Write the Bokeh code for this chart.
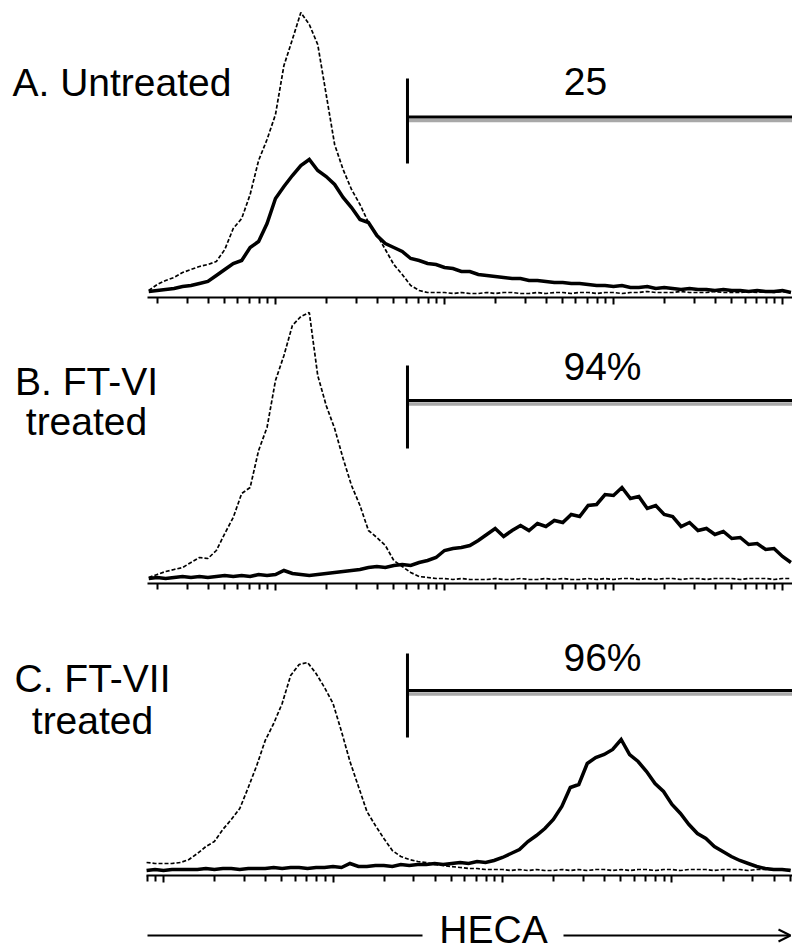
import numpy as np
from bokeh.plotting import figure
from bokeh.layouts import column
from bokeh.models import Range1d, FixedTicker, Arrow, OpenHead, LinearScale
from bokeh.core.properties import value
from bokeh.embed import file_html
from bokeh.resources import INLINE

# ---------------- data ----------------
# histogram channels: log10 HECA intensity, 0.05-decade bins
log_ab = np.round(np.arange(0.25, 4.0501, 0.05), 3)   # panels A and B
log_c = np.round(np.arange(-0.10, 3.7001, 0.05), 3)   # panel C

ctrl_A = [4, 10, 14, 17, 22, 25, 28, 30, 33, 45,
          66, 76, 100, 134, 155, 180, 229, 255, 282, 270,
          250, 200, 150, 125, 105, 90, 72, 60, 45, 30,
          20, 9, 4, 2, 2, 2, 1, 2, 1, 1,
          2, 1, 2, 2, 1, 1, 2, 1, 2, 2,
          1, 2, 2, 1, 2, 2, 1, 2, 2, 3,
          2, 2, 2, 3, 2, 2, 2, 3, 2, 2,
          2, 3, 2, 3, 2, 3, 2]
heca_A = [3, 4, 5, 6, 8, 9, 11, 13, 19, 25,
          31, 34, 47, 53, 71, 96, 108, 119, 129, 135,
          124, 118, 110, 97, 87, 75, 72, 59, 51, 47,
          43, 36, 34, 31, 30, 27, 26, 23, 23, 20,
          19, 18, 17, 16, 16, 14, 14, 13, 12, 12,
          11, 11, 10, 9, 9, 8, 9, 7, 7, 8,
          6, 7, 6, 5, 6, 5, 5, 4, 5, 4,
          4, 3, 4, 3, 3, 4, 2]

ctrl_B = [3, 6, 9, 11, 13, 18, 23, 22, 30, 47,
          63, 87, 93, 130, 153, 200, 225, 255, 264, 268,
          205, 175, 152, 122, 95, 75, 50, 43, 35, 20,
          14, 8, 4, 3, 2, 2, 1, 2, 1, 1,
          1, 2, 1, 1, 2, 1, 1, 2, 1, 2,
          1, 1, 2, 1, 2, 1, 2, 2, 1, 2,
          1, 2, 2, 1, 2, 2, 1, 2, 2, 2,
          1, 2, 2, 2, 1, 2, 2]
heca_B = [2, 3, 2, 3, 4, 3, 4, 3, 4, 5,
          4, 5, 4, 6, 5, 6, 10, 7, 6, 5,
          6, 7, 8, 9, 10, 11, 13, 14, 13, 15,
          16, 15, 18, 20, 23, 30, 32, 33, 35, 40,
          46, 52, 44, 50, 55, 50, 57, 54, 60, 58,
          66, 64, 75, 76, 86, 85, 93, 82, 84, 72,
          75, 66, 64, 54, 58, 50, 52, 46, 49, 42,
          43, 36, 37, 31, 32, 24, 18]

ctrl_C = [9, 8, 8, 8, 9, 12, 18, 25, 30, 42,
          52, 63, 84, 106, 131, 148, 168, 196, 207, 209,
          198, 184, 168, 140, 110, 85, 60, 46, 33, 21,
          15, 12, 10, 9, 7, 6, 5, 4, 3, 3,
          2, 2, 2, 1, 2, 1, 2, 1, 1, 2,
          1, 2, 1, 2, 2, 1, 2, 1, 2, 2,
          1, 2, 2, 1, 2, 2, 2, 1, 2, 2,
          2, 1, 2, 2, 2, 2, 2]
heca_C = [1, 2, 1, 2, 2, 2, 2, 3, 2, 3,
          3, 2, 3, 3, 3, 4, 3, 4, 4, 3,
          4, 4, 5, 4, 8, 5, 5, 6, 6, 5,
          7, 6, 7, 7, 8, 7, 8, 9, 8, 10,
          9, 11, 14, 18, 22, 30, 36, 43, 52, 65,
          84, 87, 108, 114, 117, 122, 132, 117, 110, 100,
          88, 80, 67, 58, 47, 38, 33, 25, 20, 15,
          11, 8, 5, 3, 2, 2, 1]

panel_titles = [["A. Untreated"], ["B. FT-VI", "treated"], ["C. FT-VII", "treated"]]
gate_low = [60.4, 60.4, 27.5]
gate_text = ["25", "94%", "96%"]
gate_text_x = [683, 861, 389]
axis_title = "HECA"

major_ab = [10, 100, 1000, 10000]
minor_ab = [m * 10 ** d for d in range(4) for m in range(2, 10)]
major_c = [1, 10, 100, 1000]
minor_c = [0.8, 0.9] + [m * 10 ** d for d in range(3) for m in range(2, 10)] + [2000, 3000, 4000, 5000]

FONT = value("Liberation Sans")
FS = "39px"
W = 792


def make_panel(height, xlo, xhi, bounds, ylo, yhi, major, minor):
    p = figure(width=W, height=height, x_axis_type="log",
               x_range=Range1d(xlo, xhi), y_range=Range1d(ylo, yhi),
               output_backend="svg", toolbar_location=None,
               min_border_left=0, min_border_right=0, min_border_top=0,
               min_border_bottom=8, y_axis_location=None,
               background_fill_color="white", border_fill_color="white",
               outline_line_color=None)
    p.extra_x_ranges = {"px": Range1d(0, W)}
    p.extra_x_scales = {"px": LinearScale()}
    p.xgrid.visible = False
    p.ygrid.visible = False
    ax = p.xaxis[0]
    ax.ticker = FixedTicker(ticks=major, minor_ticks=minor)
    ax.bounds = bounds
    ax.axis_line_width = 2
    ax.axis_line_color = "black"
    ax.major_tick_out = 7
    ax.major_tick_in = 0
    ax.minor_tick_out = 6
    ax.minor_tick_in = 0
    ax.major_tick_line_width = 2
    ax.minor_tick_line_width = 2
    ax.major_tick_line_color = "black"
    ax.minor_tick_line_color = "black"
    ax.major_label_text_font_size = "1px"
    ax.major_label_text_alpha = 0
    ax.major_label_standoff = 0
    return p


def draw(p, logs, ctrl, heca, i, xhi, gate_ys, title_pos, label_y):
    x = 10 ** logs
    p.line(x, ctrl, line_color="black", line_width=1.7, line_dash="4 2")
    p.line(x, heca, line_color="black", line_width=3.5, line_join="miter")
    y_lo, y_hi, y_h = gate_ys
    p.segment(x0=[gate_low[i]], y0=[y_h - 3.5], x1=[xhi], y1=[y_h - 3.5],
              line_color="#a8a8a8", line_width=3.5)
    p.segment(x0=[gate_low[i]], y0=[y_h], x1=[xhi], y1=[y_h],
              line_color="black", line_width=3)
    p.segment(x0=[gate_low[i]], y0=[y_lo], x1=[gate_low[i]], y1=[y_hi],
              line_color="black", line_width=3)
    p.text(x=[gate_text_x[i]], y=[label_y], text=[gate_text[i]], text_align="center",
           text_baseline="alphabetic", text_font=FONT, text_font_size=FS, text_color="black")
    tx, align, ys = title_pos
    p.text(x=[tx] * len(panel_titles[i]), y=ys, text=panel_titles[i], x_range_name="px",
           text_align=align, text_baseline="alphabetic", text_font=FONT,
           text_font_size=FS, text_color="black")


pA = make_panel(305, 0.236, 11460, (1.748, 11460), -3, 294, major_ab, minor_ab)
draw(pA, log_ab, ctrl_A, heca_A, 0, 11460, (131, 216, 177.5), (12, "left", [212]), 213)

pB = make_panel(286, 0.236, 11460, (1.748, 11460), -3, 275, major_ab, minor_ab)
draw(pB, log_ab, ctrl_B, heca_B, 1, 11460, (132, 215, 180), (86, "center", [199, 159]), 214)

pC = make_panel(292, 0.1092, 5140, (0.79, 5140), -4, 280, major_c, minor_c)
draw(pC, log_c, ctrl_C, heca_C, 2, 5140, (134, 218, 181), (92, "center", [193, 151]), 214)

pD = figure(width=W, height=67, x_range=Range1d(0, W), y_range=Range1d(0, 67),
            min_border=0, toolbar_location=None, output_backend="svg",
            outline_line_color=None, x_axis_location=None, y_axis_location=None,
            background_fill_color="white", border_fill_color="white")
pD.xgrid.visible = False
pD.ygrid.visible = False
pD.text(x=[493], y=[21], text=[axis_title], text_align="center", text_baseline="alphabetic",
        text_font=FONT, text_font_size=FS, text_color="black")
pD.segment(x0=[147], y0=[15], x1=[422], y1=[15], line_color="black", line_width=2)
pD.add_layout(Arrow(end=OpenHead(size=12, line_width=2, line_color="black"),
                    x_start=563, y_start=15, x_end=790, y_end=15,
                    line_width=2, line_color="black"))

layout = column(pA, pB, pC, pD, spacing=0)
open("out.html", "w").write(file_html(layout, INLINE))
